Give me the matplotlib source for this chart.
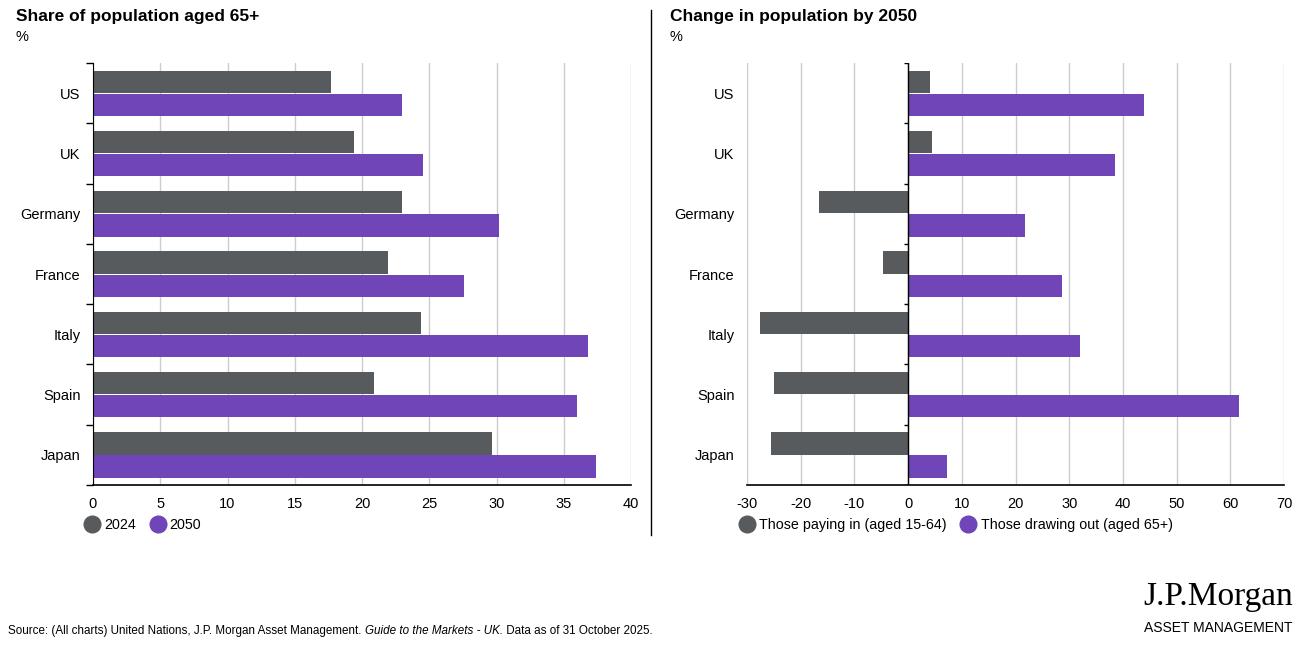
import matplotlib
matplotlib.use("Agg")
import matplotlib.pyplot as plt
from matplotlib.lines import Line2D
import numpy as np

plt.rcParams['font.family'] = ['Liberation Sans', 'DejaVu Sans']
plt.rcParams['axes.unicode_minus'] = False

# data
countries = ["US", "UK", "Germany", "France", "Italy", "Spain", "Japan"]
share_2024 = [17.7, 19.4, 23.0, 21.9, 24.4, 20.9, 29.7]
share_2050 = [23.0, 24.5, 30.2, 27.6, 36.8, 36.0, 37.4]
paying_in = [4.0, 4.4, -16.6, -4.7, -27.6, -25.0, -25.6]
drawing_out = [43.9, 38.6, 21.8, 28.7, 32.1, 61.7, 7.2]

left_ticks = [0, 5, 10, 15, 20, 25, 30, 35, 40]
right_ticks = [-30, -20, -10, 0, 10, 20, 30, 40, 50, 60, 70]

GREY = "#585b5e"
PURPLE = "#7045b8"
GRID = "#cccccc"

W, H = 1311, 648
fig = plt.figure(figsize=(W / 100, H / 100), dpi=100)


def px(x0, y0, x1, y1):
    return [x0 / W, 1 - y1 / H, (x1 - x0) / W, (y1 - y0) / H]


ax1 = fig.add_axes(px(93, 63, 631, 485))
ax2 = fig.add_axes(px(747, 63, 1284, 485))

y = np.arange(len(countries))
h = 0.37


def style(ax, ticks, zero_spine=False):
    ax.set_ylim(len(countries) - 0.5, -0.5)
    ax.set_xlim(ticks[0], ticks[-1])
    ax.set_xticks(ticks)
    ax.set_yticks(y)
    ax.set_yticklabels(countries, fontsize=10.5)
    ax.tick_params(axis='y', which='major', length=0, pad=9)
    ax.tick_params(axis='x', length=0, pad=8.5, labelsize=10.5)
    ax.grid(axis='x', color=GRID, lw=1)
    ax.set_axisbelow(True)
    for s in ["top", "right"]:
        ax.spines[s].set_visible(False)
    ax.spines["bottom"].set_color("black")
    ax.spines["bottom"].set_linewidth(1.2)
    if zero_spine:
        ax.spines["left"].set_visible(False)
        ax.axvline(0, color="black", lw=1, zorder=3)
        ax.hlines(np.arange(-0.5, len(countries)), -0.8, 0, color="black", lw=1, zorder=3)
    else:
        ax.spines["left"].set_color("black")
        ax.set_yticks(np.arange(-0.5, len(countries)), minor=True)
        ax.tick_params(axis='y', which='minor', length=5, width=1, color="black")


ax1.barh(y - 0.19, share_2024, height=h, color=GREY, zorder=2)
ax1.barh(y + 0.195, share_2050, height=h, color=PURPLE, zorder=2)
style(ax1, left_ticks)

ax2.barh(y - 0.19, paying_in, height=h, color=GREY, zorder=2)
ax2.barh(y + 0.195, drawing_out, height=h, color=PURPLE, zorder=2)
style(ax2, right_ticks, zero_spine=True)

# titles
fig.text(16 / W, 1 - 17 / H, "Share of population aged 65+", fontsize=12.5,
         fontweight="bold", va="center", ha="left")
fig.text(16 / W, 1 - 37 / H, "%", fontsize=10.5, va="center", ha="left")
fig.text(670 / W, 1 - 17 / H, "Change in population by 2050", fontsize=12.5,
         fontweight="bold", va="center", ha="left")
fig.text(670 / W, 1 - 37 / H, "%", fontsize=10.5, va="center", ha="left")

# divider
fig.add_artist(Line2D([651 / W, 651 / W], [1 - 10 / H, 1 - 535 / H], color="black", lw=1))


def legend(ax, labels, x_px):
    handles = [Line2D([], [], ls="none", marker="o", markersize=12,
                      markerfacecolor=c, markeredgecolor=c) for c in (GREY, PURPLE)]
    ax.legend(handles, labels, loc="center left", bbox_to_anchor=(x_px / W, 1 - 525 / H),
              bbox_transform=fig.transFigure, ncol=2, frameon=False, fontsize=10.3,
              borderpad=0, borderaxespad=0, handlelength=1.0, handletextpad=0.35,
              columnspacing=1.0)


legend(ax1, ["2024", "2050"], 85)
legend(ax2, ["Those paying in (aged 15-64)", "Those drawing out (aged 65+)"], 740)

# source line in three styles
fig.canvas.draw()
r = fig.canvas.get_renderer()
x = 8 / W
for txt, st in [("Source: (All charts) United Nations, J.P. Morgan Asset Management. ", "normal"),
                ("Guide to the Markets - UK.", "italic"),
                (" Data as of 31 October 2025.", "normal")]:
    t = fig.text(x, 1 - 631 / H, txt, fontsize=8.4, style=st, va="center", ha="left")
    bb = t.get_window_extent(renderer=r)
    x += bb.width / W

# logo
fig.text(1293 / W, 1 - 597 / H, "J.P.Morgan", fontsize=24, family="Liberation Serif",
         ha="right", va="center")
fig.text(1293 / W, 1 - 628 / H, "ASSET MANAGEMENT", fontsize=10, ha="right", va="center")

fig.savefig("out.png", dpi=100)
